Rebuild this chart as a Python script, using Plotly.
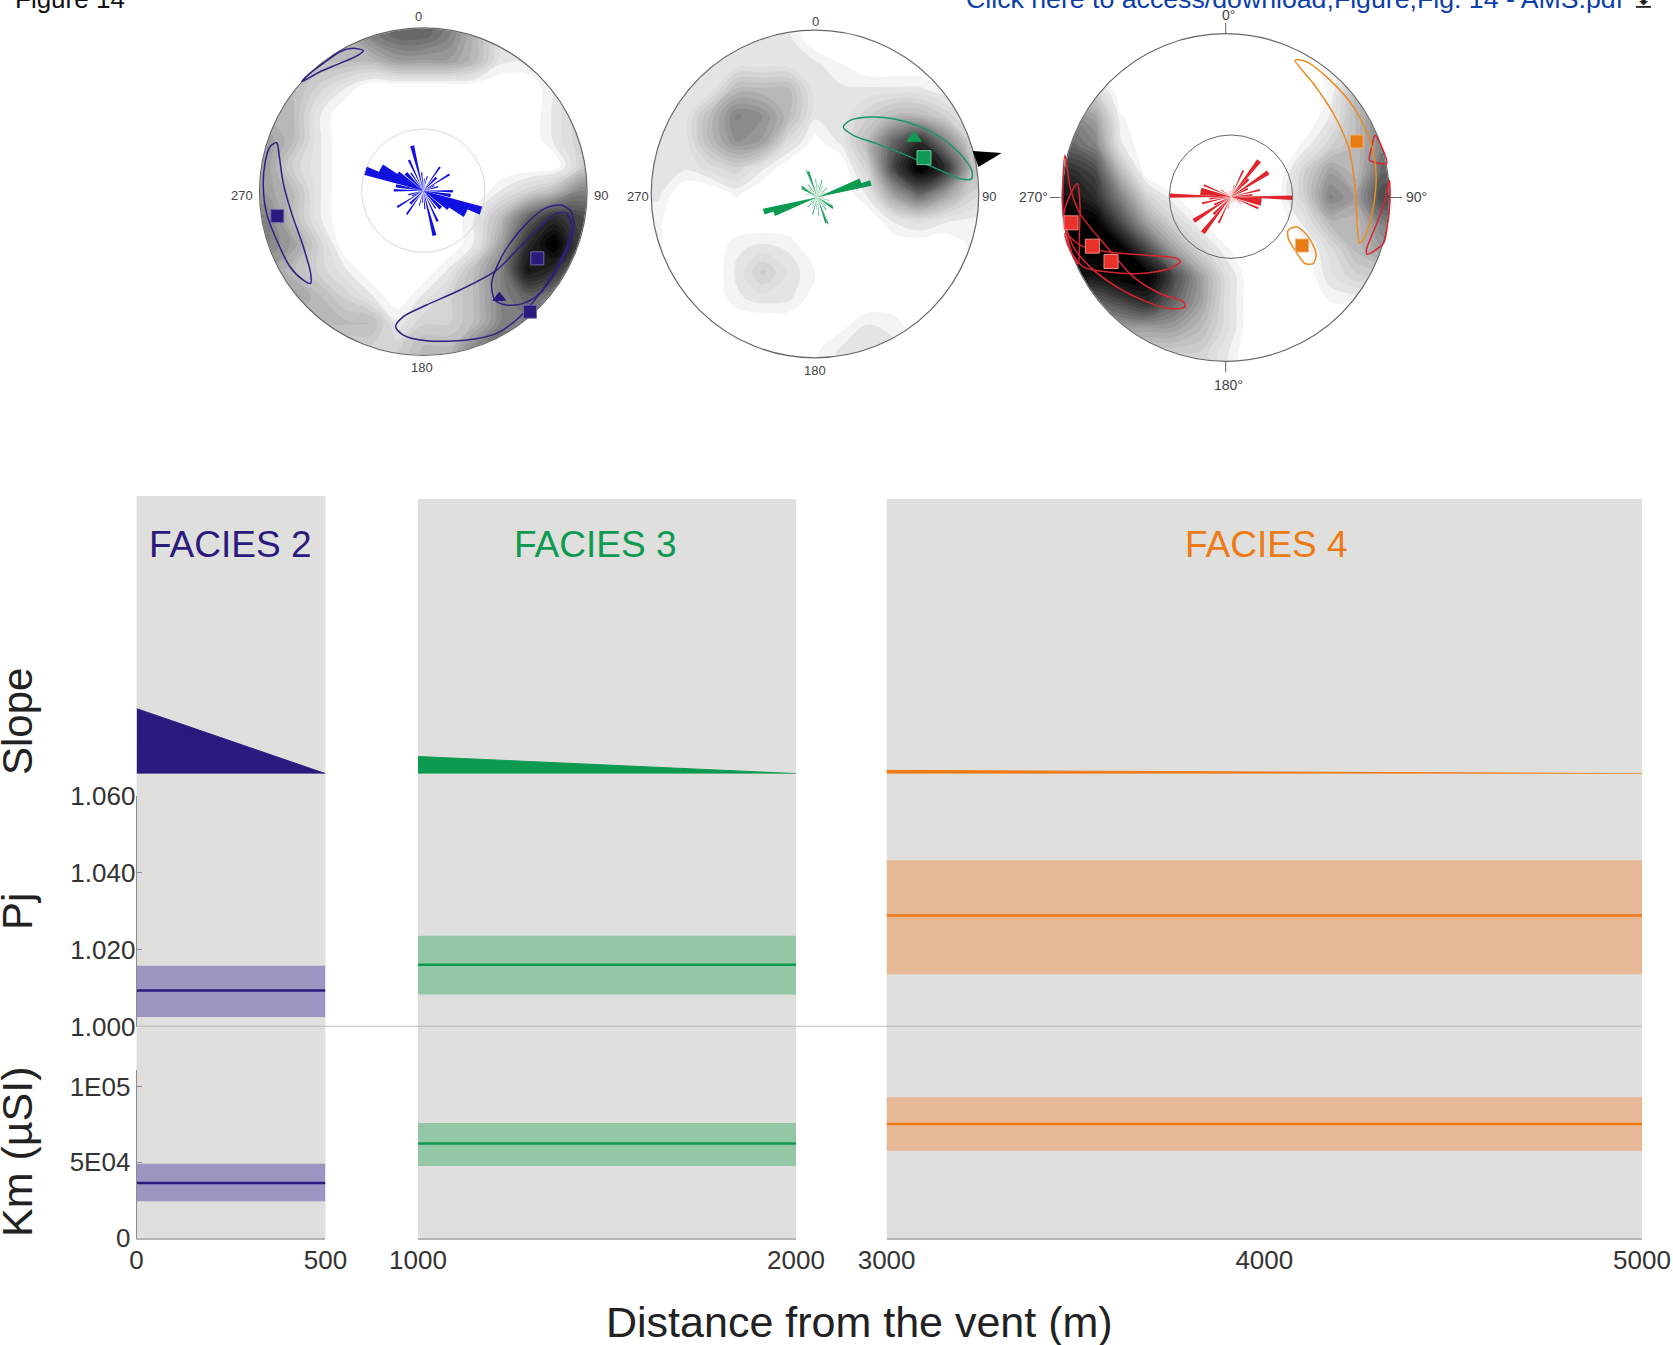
import plotly.graph_objects as go

W, H = 1673, 1345
FONT = "Liberation Sans"
NAVY, GREEN, ORANGE, RED = "#2a1a7e", "#0c9a50", "#ee7a16", "#e4292c"

# ---------- lower chart ----------
facies_names = ["FACIES 2", "FACIES 3", "FACIES 4"]
facies_colors = [NAVY, GREEN, ORANGE]
band_colors = ["#9b95c2", "#93c7a6", "#e6b896"]
facies_start = [0, 1000, 3000]
facies_end = [500, 2000, 5000]
x_ticks = [[0, 500], [1000, 2000], [3000, 4000, 5000]]
slope_start = [11.0, 2.9, 0.55]
slope_end = [0, 0, 0]
pj_low = [1.0025, 1.0083, 1.0136]
pj_high = [1.0158, 1.0236, 1.0433]
pj_mean = [1.0094, 1.0161, 1.0289]
km_low = [24100, 47500, 57500]
km_high = [48900, 75900, 92900]
km_mean = [36200, 62400, 75200]
pj_ticks = [1.0, 1.02, 1.04, 1.06]
pj_labels = ["1.000", "1.020", "1.040", "1.060"]
km_ticks = [0, 50000, 100000]
km_labels = ["0", "5E04", "1E05"]

# ---------- stereonets: units are offsets from each net's centre, radius 490 ----------
net_grid = [-549, -470, -392, -314, -235, -157, -78, 0, 78, 157, 235, 314, 392, 470, 549]
net1_z = [
    [0, 0, 0, 0, 1, 3, 5, 6, 5, 2, 1, 0, 0, 0, 0],
    [0, 0, 1, 2, 3, 5, 6, 6, 5, 3, 1, 0, 0, 0, 0],
    [2, 2, 3, 3, 3, 3, 4, 4, 4, 3, 1, 1, 1, 1, 1],
    [3, 3, 3, 2, 1, 0, 0, 0, 0, 0, 0, 0, 1, 2, 2],
    [3, 3, 3, 1, 0, 0, 0, 0, 0, 0, 0, 0, 1, 2, 2],
    [4, 4, 3, 1, 0, 0, 0, 0, 0, 0, 0, 0, 1, 2, 3],
    [4, 4, 2, 1, 0, 0, 0, 0, 0, 0, 0, 0, 0, 2, 3],
    [4, 4, 3, 1, 0, 0, 0, 0, 0, 0, 1, 2, 3, 5, 5],
    [5, 5, 3, 1, 0, 0, 0, 0, 0, 1, 3, 6, 8, 7, 6],
    [5, 5, 4, 2, 0, 0, 0, 0, 0, 1, 4, 8, 10, 7, 6],
    [4, 4, 3, 2, 1, 0, 0, 0, 1, 3, 5, 9, 8, 5, 5],
    [4, 4, 4, 3, 2, 1, 0, 1, 2, 3, 5, 6, 5, 4, 4],
    [3, 3, 3, 3, 3, 3, 1, 2, 2, 3, 5, 5, 5, 4, 4],
    [2, 2, 2, 2, 2, 2, 2, 3, 3, 5, 6, 5, 4, 3, 3],
    [2, 2, 2, 2, 2, 2, 2, 3, 3, 5, 6, 5, 4, 3, 3],
]
net2_z = [
    [1, 1, 1, 1, 1, 1, 1, 0, 0, 0, 0, 0, 0, 0, 0],
    [1, 1, 1, 1, 1, 1, 1, 0, 0, 0, 0, 0, 0, 0, 0],
    [1, 1, 1, 1, 1, 1, 1, 1, .5, 0, 0, 0, 0, 0, 0],
    [1, 1, 1, 1, 3, 3, 3, 1, 1, 1, 1, 1, .5, 0, 0],
    [1, 1, 1, 3, 5, 4.5, 3, 1, 1, 2, 3, 3, 2, 1, 1],
    [1, 1, 1, 3, 4.5, 4, 1.5, .3, 1, 3, 6, 8, 5, 2, 2],
    [1, 1, 1, 1.5, 2, 1, 0, 0, 0, 2, 7, 10, 8, 3, 2],
    [1, 1, 0, 0, .6, 0, 0, 0, 0, 1, 4, 6, 4, 2, 1],
    [.6, .6, 0, 0, 0, 0, 0, 0, 0, 0, 1, 1.5, 1, .8, .8],
    [.6, .6, 0, 0, .8, 1, .8, 0, 0, 0, 0, 0, 0, .6, .6],
    [.6, .6, 0, 0, 1, 2.2, 1.2, .5, 0, 0, 0, 0, .4, .6, .6],
    [0, 0, 0, 0, .8, 1.1, 1, .2, 0, 0, 0, 0, 0, 0, 0],
    [0, 0, 0, 0, 0, 0, 0, 0, .3, .9, .8, 0, 0, 0, 0],
    [0, 0, 0, 0, 0, 0, 0, .4, 1, 1, 1, .5, 0, 0, 0],
    [0, 0, 0, 0, 0, 0, 0, .4, 1, 1, 1, .5, 0, 0, 0],
]
net3_z = [
    [0, 0, 0, 0, 0, 0, 0, 0, 0, 0, 0, 0, 0, 0, 0],
    [0, 0, 0, 0, 0, 0, 0, 0, 0, 0, 0, 0, 0, 0, 0],
    [0, 0, 0, 0, 0, 0, 0, 0, 0, 0, 0, .8, 1, 1, 1],
    [2, 2, 2, 0, 0, 0, 0, 0, 0, 0, 0, .6, 3, 4, 4],
    [5, 5, 4, .6, 0, 0, 0, 0, 0, 0, 0, 1, 3, 5, 5],
    [6, 6, 5, 1, 0, 0, 0, 0, 0, 0, .6, 2, 3, 5, 5],
    [8, 8, 7, 3, 0, 0, 0, 0, 0, 0, 2, 4, 3, 6, 6],
    [9, 9, 8, 5, 2, .6, 0, 0, 0, .3, 2, 5, 4, 7, 7],
    [10, 10, 10, 7, 4, 2, .6, 0, 0, 0, 1, 3, 3, 5, 5],
    [10, 10, 10, 10, 7, 4, 2, .6, 0, 0, .2, 1.5, 3, 4, 4],
    [9, 9, 9, 10, 10, 7, 4, 1.5, 0, 0, 0, 1.2, 2, 2, 2],
    [6, 6, 6, 7, 8, 6, 4, 1.5, 0, 0, 0, .5, .5, .5, .5],
    [4, 4, 4, 4, 4, 4, 3, 1.5, 0, 0, 0, 0, 0, 0, 0],
    [2, 2, 2, 2, 2, 2, 2, 1, 0, 0, 0, 0, 0, 0, 0],
    [2, 2, 2, 2, 2, 2, 2, 1, 0, 0, 0, 0, 0, 0, 0],
]

net1_curves_x = [
    [-180, -210, -250, -300, -340, -365, -310, -250, -195, -180],
    [-440, -460, -475, -480, -470, -440, -400, -360, -338, -338, -360, -395, -420, -432, -440],
    [410, 365, 310, 260, 225, 205, 215, 250, 300, 350, 400, 440, 452, 440, 410],
    [430, 445, 430, 390, 350, 290, 220, 130, 10, -60, -83, -60, 10, 110, 220, 290, 350, 400, 430],
]
net1_curves_y = [
    [423, 430, 420, 385, 355, 330, 360, 385, 410, 423],
    [147, 135, 85, 15, -65, -145, -225, -265, -275, -245, -165, -65, 25, 105, 147],
    [-40, -50, -95, -155, -215, -275, -325, -340, -335, -305, -235, -155, -95, -55, -40],
    [-65, -105, -165, -245, -305, -375, -425, -445, -447, -430, -405, -375, -340, -295, -235, -165, -105, -65, -65],
]
net1_sq_x = [-438, 342, 320]
net1_sq_y = [-73, -200, -360]
net1_tri_x = [228]
net1_tri_y = [-318]

net2_curve_x = [85, 105, 165, 235, 305, 375, 435, 470, 470, 435, 365, 275, 185, 115, 85]
net2_curve_y = [201, 221, 231, 226, 206, 171, 121, 71, 46, 46, 76, 116, 151, 176, 201]
net2_sq_x = [327]
net2_sq_y = [109]
net2_tri_x = [297]
net2_tri_y = [168]
net2_wedge_x = [473, 560, 490, 473]
net2_wedge_y = [129, 123, 81, 129]

net3_orange_x = [
    [208, 243, 313, 383, 433, 451, 443, 418, 401, 395, 388, 368, 323, 263, 208],
    [188, 213, 248, 271, 263, 238, 208, 188, 188],
]
net3_orange_y = [
    [412, 407, 352, 272, 172, 72, -28, -118, -136, -88, 32, 152, 252, 342, 412],
    [-98, -88, -118, -168, -198, -198, -158, -123, -98],
]
net3_red_x = [
    [448, 468, 483, 443, 431, 438, 448],
    [491, 493, 483, 473, 423, 423, 453, 478, 491],
    [-445, -467, -485, -477, -457, -442, -439, -437, -445],
    [-482, -437, -357, -237, -147, -137, -167, -257, -357, -427, -467, -482],
    [-482, -467, -437, -357, -277, -197, -127, -122, -167, -237, -327, -407, -457, -487, -482],
]
net3_red_y = [
    [187, 152, 102, 107, 112, 152, 187],
    [52, -8, -98, -138, -170, -153, -78, -8, 52],
    [42, 7, -48, -108, -178, -198, -108, -28, 42],
    [-108, -143, -163, -173, -183, -193, -213, -228, -223, -208, -158, -108],
    [127, 32, -48, -148, -238, -288, -313, -328, -333, -313, -268, -208, -148, -48, 127],
]
net3_sq_orange_x = [393, 229]
net3_sq_orange_y = [168, -144]
net3_sq_red_x = [-464, -400, -344]
net3_sq_red_y = [-76, -146, -192]

# rose diagrams: azimuth (deg), length (fraction of the small circle), sector width (deg)
rose1_az = [5, 15, 35, 45, 58, 65, 75, 91, 100, 109, 116, 125, 135, 145, 155, 166, 175]
rose1_r = [.2, .25, .47, .3, .5, .2, .25, .48, .45, 1.0, .78, .5, .4, .35, .55, .75, .3]
rose1_w = [4, 4, 4, 8, 4, 6, 6, 5, 7, 8, 14, 7, 9, 4, 4, 5, 4]
rose2_az = [5, 15, 25, 35, 45, 55, 70, 75, 95, 105, 120, 125, 135, 145, 158, 161, 175]
rose2_r = [.2, .29, .2, .15, .22, .15, .75, .9, .1, .2, .29, .31, .2, .25, .47, .44, .3]
rose2_w = [2, 3, 2, 2, 3, 2, 8, 6, 2, 2, 4, 5, 2, 3, 2, 4, 2]
rose3_az = [5, 15, 25, 38, 45, 57, 65, 77, 85, 91, 100, 113, 125, 140, 160, 175]
rose3_r = [.1, .2, .47, .74, .4, .72, .3, .48, .35, 1.0, .5, .48, .2, .1, .1, .1]
rose3_w = [2, 3, 4, 6, 6, 6, 6, 4, 5, 4, 14, 4, 3, 2, 2, 2]

gray_scale = [[0, "#ffffff"], [0.05, "#e6e6e6"], [0.12, "#dcdcdc"], [0.3, "#b4b4b4"], [0.5, "#808080"], [0.75, "#3c3c3c"], [1, "#000000"]]


def px(x):
    return x / W


def py(y):
    return 1 - y / H


fig = go.Figure()

# column / row geometry of the lower chart
col_px = [(136.6, 325.4), (418, 796), (886.6, 1642)]
panel_top = [496, 499, 499]
panel_bottom = 1238
x_names = ["x", "x2", "x3"]
layout = {}
shapes = []
for i, (a, b) in enumerate(col_px):
    key = "xaxis" if i == 0 else f"xaxis{i + 1}"
    layout[key] = dict(
        domain=[px(a), px(b)], range=[facies_start[i], facies_end[i]], anchor="y3", automargin=False,
        tickvals=x_ticks[i], showgrid=False, zeroline=False, showline=True, linecolor="#b5b5b5", linewidth=1.5,
        ticks="", ticklabelstandoff=-2, tickfont=dict(size=26, color="#333333", family=FONT),
    )
    shapes.append(dict(type="rect", layer="below", xref=f"{x_names[i]} domain", yref="paper", x0=0, x1=1,
                       y0=py(panel_bottom), y1=py(panel_top[i]), fillcolor="#dfdfdd", line=dict(width=0)))
layout["yaxis"] = dict(domain=[py(773.6), py(496)], range=[0, 47], anchor="x", visible=False, automargin=False)
layout["yaxis2"] = dict(
    domain=[py(1026.5), py(796)], range=[1.0, 1.06], anchor="x", tickvals=pj_ticks, ticktext=pj_labels, automargin=False,
    showgrid=False, zeroline=False, showline=True, linecolor="#8c8c8c", linewidth=1, ticks="inside", ticklen=5,
    tickcolor="#8c8c8c", ticklabelstandoff=-5, tickfont=dict(size=26, color="#333333", family=FONT),
)
layout["yaxis3"] = dict(
    domain=[py(1237.7), py(1070)], range=[0, 111000], anchor="x", tickvals=km_ticks, ticktext=km_labels, automargin=False,
    showgrid=False, zeroline=False, showline=True, linecolor="#8c8c8c", linewidth=1, ticks="inside", ticklen=5,
    tickcolor="#8c8c8c", tickfont=dict(size=26, color="#333333", family=FONT),
)

for i in range(3):
    a, b = facies_start[i], facies_end[i]
    xa = x_names[i]
    fig.add_trace(go.Scatter(x=[a, b, a], y=[slope_start[i], slope_end[i], 0], xaxis=xa, yaxis="y", mode="lines",
                             fill="toself", fillcolor=facies_colors[i], line=dict(color=facies_colors[i], width=1)))
    for low, high, mean, ya in ((pj_low, pj_high, pj_mean, "y2"), (km_low, km_high, km_mean, "y3")):
        fig.add_trace(go.Scatter(x=[a, b, b, a], y=[low[i], low[i], high[i], high[i]], xaxis=xa, yaxis=ya,
                                 mode="lines", fill="toself", fillcolor=band_colors[i], line=dict(width=0)))
        fig.add_trace(go.Scatter(x=[a, b], y=[mean[i], mean[i]], xaxis=xa, yaxis=ya, mode="lines",
                                 line=dict(color=facies_colors[i], width=2.5)))

shapes.append(dict(type="line", xref="paper", yref="y2", x0=px(136.6), x1=px(1642), y0=1.0, y1=1.0,
                   line=dict(color="#a8a8a8", width=1.5)))

# ---------- stereonet panels ----------
net_px = [(423.3, 191.7), (815, 194), (1225.7, 197.5)]
NET_HALF = 560
NET_R_PX = 163.3
nets = [net1_z, net2_z, net3_z]
net_border = ["#666666", "#666666", "#666666"]
for n, (cx, cy) in enumerate(net_px):
    idx = n + 4
    half_px = NET_HALF / 3
    layout[f"xaxis{idx}"] = dict(domain=[px(cx - half_px), px(cx + half_px)], range=[-NET_HALF, NET_HALF], visible=False,
                                 anchor=f"y{idx}", automargin=False)
    layout[f"yaxis{idx}"] = dict(domain=[py(cy + half_px), py(cy - half_px)], range=[-NET_HALF, NET_HALF], visible=False,
                                 anchor=f"x{idx}", automargin=False)
    z = [[0 if (gx * gx + gy * gy) ** .5 > 590 else v for gx, v in zip(net_grid, row)]
         for gy, row in zip(net_grid[::-1], nets[n])]
    fig.add_trace(go.Contour(
        x=net_grid, y=net_grid[::-1], z=z, xaxis=f"x{idx}", yaxis=f"y{idx}", colorscale=gray_scale, zmin=0, zmax=10,
        autocontour=False, contours=dict(start=0.5, end=10, size=0.4, coloring="fill", showlines=False),
        line=dict(width=0, smoothing=1.0), showscale=False, hoverinfo="skip",
    ))
    # white ring that trims the density field to the net, then the net's outline
    fig.add_trace(go.Scatter(x=[0], y=[0], xaxis=f"x{idx}", yaxis=f"y{idx}", mode="markers", cliponaxis=False,
                             marker=dict(symbol="circle-open", size=2 * (NET_R_PX + 30), color="#ffffff",
                                         line=dict(width=60, color="#ffffff"))))
    fig.add_trace(go.Scatter(x=[0], y=[0], xaxis=f"x{idx}", yaxis=f"y{idx}", mode="markers", cliponaxis=False,
                             marker=dict(symbol="circle-open", size=2 * NET_R_PX + 1, color=net_border[n],
                                         line=dict(width=1.2, color=net_border[n]))))


def curves(xs, ys, color, axis, width=1.5):
    for cx_, cy_ in zip(xs, ys):
        fig.add_trace(go.Scatter(x=cx_, y=cy_, xaxis=f"x{axis}", yaxis=f"y{axis}", mode="lines", cliponaxis=False,
                                 line=dict(color=color, width=width, shape="spline", smoothing=0.8)))


def points(xs, ys, symbol, color, axis, edge, size=14):
    fig.add_trace(go.Scatter(x=xs, y=ys, xaxis=f"x{axis}", yaxis=f"y{axis}", mode="markers", cliponaxis=False,
                             marker=dict(symbol=symbol, size=size, color=color, line=dict(width=1, color=edge))))


curves(net1_curves_x, net1_curves_y, "#2c2085", 4)
points(net1_sq_x, net1_sq_y, "square", NAVY, 4, "#6f68b0", 13)
points(net1_tri_x, net1_tri_y, "triangle-up", NAVY, 4, NAVY, 11)
curves([net2_curve_x], [net2_curve_y], "#18966a", 5)
points(net2_sq_x, net2_sq_y, "square", "#119a55", 5, "#6cc49a", 14)
points(net2_tri_x, net2_tri_y, "triangle-up", "#119a55", 5, "#119a55", 13)
fig.add_trace(go.Scatter(x=net2_wedge_x, y=net2_wedge_y, xaxis="x5", yaxis="y5", mode="lines", fill="toself",
                         fillcolor="#000000", line=dict(width=0), cliponaxis=False))
curves(net3_red_x, net3_red_y, "#d8242f", 6)
curves(net3_orange_x, net3_orange_y, "#ea8a20", 6)
points(net3_sq_red_x, net3_sq_red_y, "square", "#e8322a", 6, "#f08a80", 14)
points(net3_sq_orange_x, net3_sq_orange_y, "square", "#e87c14", 6, "#f0b070", 13)

# ---------- rose diagrams ----------
rose_px = [(423.3, 190.7), (817.3, 197.3), (1231, 196.7)]
ROSE_R = 61.7
roses = [(rose1_az, rose1_r, rose1_w, "#1212e0", "#d8d8d8"),
         (rose2_az, rose2_r, rose2_w, "#0c9a50", "rgba(0,0,0,0)"),
         (rose3_az, rose3_r, rose3_w, "#e0242a", "#666666")]
for k, (az, r, w, color, ring) in enumerate(roses):
    name = "polar" if k == 0 else f"polar{k + 1}"
    cx, cy = rose_px[k]
    layout[name] = dict(
        domain=dict(x=[px(cx - ROSE_R), px(cx + ROSE_R)], y=[py(cy + ROSE_R), py(cy - ROSE_R)]),
        bgcolor="rgba(0,0,0,0)",
        radialaxis=dict(range=[0, 1], visible=False),
        angularaxis=dict(direction="clockwise", rotation=90, showticklabels=False, ticks="", showgrid=False,
                         linecolor=ring, linewidth=1),
    )
    fig.add_trace(go.Barpolar(theta=az + [a + 180 for a in az], r=r + r, width=w + w, subplot=name,
                              marker=dict(color=color, line=dict(width=0))))

# ---------- text ----------
annotations = []


def label(text, x, y, size, color="#333333", angle=0, anchor="center"):
    annotations.append(dict(text=text, x=px(x), y=py(y), xref="paper", yref="paper", showarrow=False, xanchor=anchor,
                            yanchor="middle", textangle=angle, font=dict(size=size, color=color, family=FONT)))


for text, x, color in zip(facies_names, (229.6, 595, 1266), facies_colors):
    label(text, x, 544, 37, color)
label("Slope", 17, 722, 42, "#222222", -90)
label("Pj", 17, 912, 42, "#222222", -90)
label("Km (µSI)", 17, 1152, 43, "#222222", -90)
label("Distance from the vent (m)", 859, 1322, 43, "#222222")
label("Figure 14", 13, -1, 26, "#111111", anchor="left")
label("Click here to access/download;Figure;Fig. 14 - AMS.pdf", 964, -1, 26.7, "#0b3ea8", anchor="left")
label("<u>⬇</u>", 1643, -1, 18, "#222222")
for text, x, y in (("0", 419, 17), ("90", 601, 196), ("180", 421.6, 368), ("270", 241.7, 196),
                   ("0", 815, 22), ("90", 989, 197), ("180", 815, 370), ("270", 638, 197)):
    label(text, x, y, 13, "#444444")
for text, x, y in (("0°", 1228, 15), ("90°", 1416, 197), ("180°", 1228, 385), ("270°", 1033, 197)):
    label(text, x, y, 14, "#444444")
for x0, y0, x1, y1 in ((1225.7, 23, 1225.7, 33), (1391, 197.5, 1402, 197.5),
                       (1225.7, 362, 1225.7, 372), (1050, 197.5, 1060.5, 197.5)):
    shapes.append(dict(type="line", xref="paper", yref="paper", x0=px(x0), x1=px(x1), y0=py(y0), y1=py(y1),
                       line=dict(color="#666666", width=1)))

fig.update_layout(width=W, height=H, margin=dict(l=0, r=0, t=0, b=0, autoexpand=False), paper_bgcolor="white",
                  plot_bgcolor="rgba(0,0,0,0)", showlegend=False, shapes=shapes, annotations=annotations,
                  font=dict(family=FONT), **layout)
fig.write_html("out.html", config=dict(displayModeBar=False),
               post_script="document.body.style.margin='0';document.documentElement.style.overflow='hidden';")
